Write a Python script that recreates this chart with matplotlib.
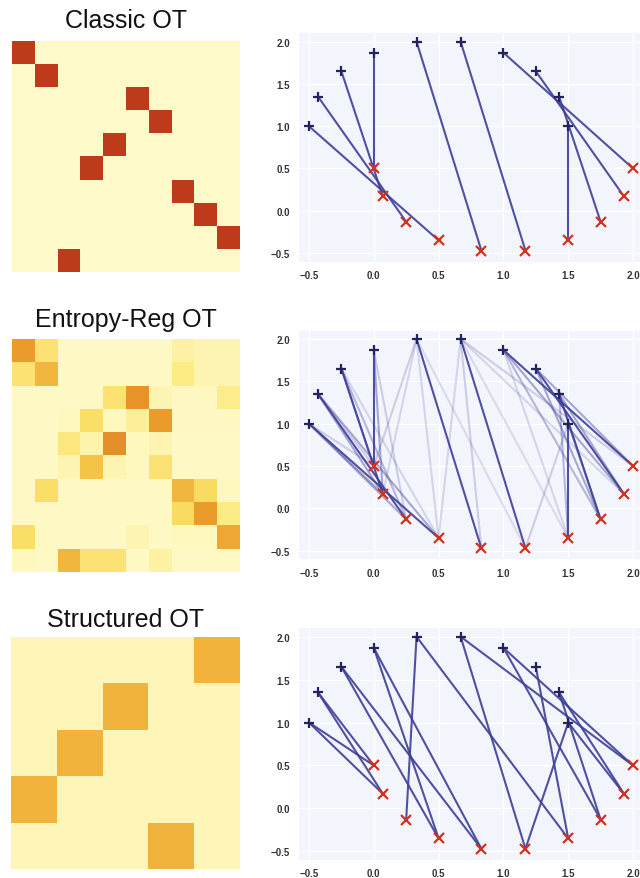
import matplotlib
matplotlib.use("Agg")
import matplotlib.pyplot as plt
import numpy as np
from matplotlib.colors import LinearSegmentedColormap

# source (+) and target (x) point clouds
src_x = [-0.50, -0.43, -0.25, 0.00, 0.33, 0.67, 1.00, 1.25, 1.43, 1.50]
src_y = [1.00, 1.35, 1.65, 1.87, 2.00, 2.00, 1.87, 1.65, 1.35, 1.00]
tgt_x = [0.00, 0.07, 0.25, 0.50, 0.83, 1.17, 1.50, 1.75, 1.93, 2.00]
tgt_y = [0.50, 0.17, -0.13, -0.35, -0.47, -0.47, -0.35, -0.13, 0.17, 0.50]

# couplings drawn as lines: (source index, target index, weight)
classic_edges = [(0, 3, 1), (1, 2, 1), (2, 1, 1), (3, 0, 1), (4, 4, 1),
                 (5, 5, 1), (6, 9, 1), (7, 8, 1), (8, 7, 1), (9, 6, 1)]
entropy_edges = classic_edges + [
    (0, 2, .45), (0, 1, .45), (1, 3, .45), (1, 1, .45), (2, 0, .45), (2, 2, .35),
    (3, 1, .45), (6, 8, .45), (6, 7, .35), (7, 9, .45), (7, 7, .45), (8, 8, .45),
    (8, 6, .35), (9, 7, .45),
    (4, 0, .2), (4, 1, .15), (4, 3, .15), (5, 4, .2), (5, 3, .15), (5, 9, .2),
    (5, 8, .15), (9, 5, .2), (3, 2, .2), (2, 3, .15), (6, 6, .15), (4, 5, .12),
    (5, 6, .12), (0, 0, .2), (1, 0, .2)]
structured_edges = [(0, 0, 1), (0, 1, 1), (1, 0, 1), (1, 1, 1), (2, 3, 1), (2, 4, 1),
                    (3, 3, 1), (3, 4, 1), (4, 2, 1), (4, 6, 1), (5, 5, 1), (5, 9, 1),
                    (6, 9, 1), (6, 7, 1), (7, 6, 1), (8, 8, 1), (8, 7, 1), (9, 5, 1),
                    (9, 8, 1)]

# coupling matrices shown as heatmaps
classic_perm = [0, 1, 5, 6, 4, 3, 7, 8, 9, 2]
entropy_mat = [
    [.55, .25, .03, .03, .03, .03, .03, .12, .08, .08],
    [.25, .45, .03, .03, .03, .03, .03, .20, .08, .08],
    [.03, .03, .03, .03, .25, .58, .08, .04, .04, .18],
    [.03, .03, .05, .28, .05, .15, .55, .04, .04, .04],
    [.03, .03, .22, .10, .60, .05, .08, .03, .03, .03],
    [.03, .03, .08, .40, .08, .05, .25, .03, .03, .03],
    [.03, .28, .03, .03, .03, .03, .03, .45, .30, .05],
    [.03, .03, .03, .03, .03, .03, .03, .30, .55, .20],
    [.28, .03, .03, .03, .03, .08, .03, .05, .05, .50],
    [.05, .03, .45, .25, .25, .03, .12, .03, .03, .03],
]
struct_blocks = [(0, 8), (2, 4), (4, 2), (6, 0), (8, 6)]  # (row, col) of 2x2 blocks

titles = ["Classic OT", "Entropy-Reg OT", "Structured OT"]
xticks = [-0.5, 0.0, 0.5, 1.0, 1.5, 2.0]
yticks = [-0.5, 0.0, 0.5, 1.0, 1.5, 2.0]

classic_mat = np.full((10, 10), 0.02)
for r, c in enumerate(classic_perm):
    classic_mat[r, c] = 1.0
struct_mat = np.full((10, 10), 0.06)
for r, c in struct_blocks:
    struct_mat[r:r + 2, c:c + 2] = 0.46
mats = [classic_mat, np.array(entropy_mat), struct_mat]
edges = [classic_edges, entropy_edges, structured_edges]

cmap = LinearSegmentedColormap.from_list(
    "ot", [(0, "#fffbd0"), (0.2, "#fdeb84"), (0.35, "#f9d350"),
           (0.55, "#eb9a2c"), (1.0, "#bd3a1a")])

W, H = 640, 879
fig = plt.figure(figsize=(W / 100, H / 100), dpi=100)
plt.rcParams["font.family"] = ["Liberation Sans", "DejaVu Sans"]


def px_axes(x0, y0, x1, y1):
    return fig.add_axes([x0 / W, 1 - y1 / H, (x1 - x0) / W, (y1 - y0) / H])


heat_boxes = [(12, 42, 240, 273), (12, 340, 240, 573), (11, 638, 240, 870)]
title_y = [21, 320, 620]
scat_boxes = [(298.6, 34.2, 639.5, 262.5), (298.6, 331.5, 639.5, 560.2),
              (298.6, 629.1, 639.5, 860.9)]

for k in range(3):
    ax = px_axes(*heat_boxes[k])
    ax.imshow(mats[k], cmap=cmap, vmin=0, vmax=1, interpolation="nearest", aspect="auto")
    ax.axis("off")
    fig.text(126 / W, 1 - title_y[k] / H, titles[k], ha="center", va="center",
             fontsize=18, color="#111111")

    ax = px_axes(*scat_boxes[k])
    ax.set_facecolor("#f3f5fc")
    ax.grid(True, color="white", lw=1.0)
    ax.set_axisbelow(True)
    for s in ax.spines.values():
        s.set_visible(False)
    for i, j, w in edges[k]:
        ax.plot([src_x[i], tgt_x[j]], [src_y[i], tgt_y[j]], color="#3e3e98",
                lw=1.5, alpha=min(1.0, 0.85 * w + 0.05), zorder=2)
    ax.plot(src_x, src_y, "+", color="#23235e", ms=7, mew=1.6, zorder=3)
    ax.plot(tgt_x, tgt_y, "x", color="#d2321e", ms=6.5, mew=1.6, zorder=3)
    ax.set_xlim(-0.58, 2.05)
    ax.set_ylim(-0.6, 2.1)
    ax.set_xticks(xticks)
    ax.set_yticks(yticks)
    ax.set_xticklabels([f"{t:.1f}".replace("-", "\u2212") for t in xticks])
    ax.set_yticklabels([f"{t:.1f}".replace("-", "\u2212") for t in yticks])
    ax.tick_params(length=0, labelsize=7, labelcolor="#333333", pad=6)
    for lab in ax.get_xticklabels() + ax.get_yticklabels():
        lab.set_fontweight("bold")

fig.savefig("out.png", dpi=100)
